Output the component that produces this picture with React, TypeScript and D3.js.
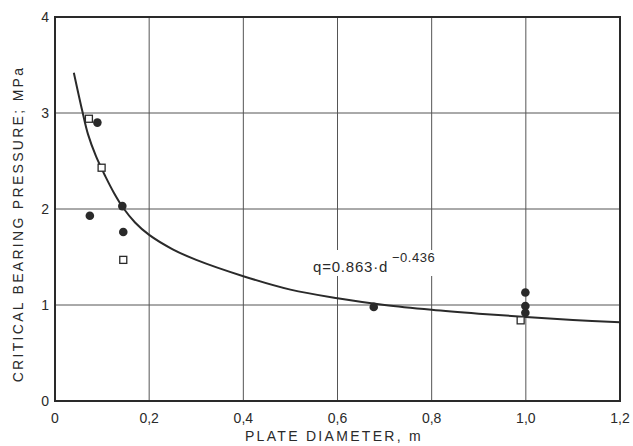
import React, { useEffect, useRef } from 'react';
import * as d3 from 'd3';

// values
const xTicks = [0, 0.2, 0.4, 0.6, 0.8, 1.0, 1.2];
const xTickLabels = ['0', '0,2', '0,4', '0,6', '0,8', '1,0', '1,2'];
const yTicks = [0, 1, 2, 3, 4];

// open squares
const squareD = [0.072, 0.099, 0.145, 0.989];
const squareQ = [2.94, 2.43, 1.47, 0.84];

// filled circles
const circleD = [0.09, 0.074, 0.143, 0.145, 0.677, 0.999, 0.999, 0.999];
const circleQ = [2.9, 1.93, 2.03, 1.76, 0.98, 1.13, 0.99, 0.92];

// fitted curve
const curveD = [0.04, 0.058, 0.07, 0.087, 0.107, 0.125, 0.145, 0.17, 0.2, 0.25, 0.3, 0.4, 0.5, 0.6, 0.7, 0.8, 0.9, 1.0, 1.1, 1.2];
const curveQ = [3.42, 3.02, 2.78, 2.55, 2.34, 2.17, 2.01, 1.86, 1.73, 1.58, 1.47, 1.3, 1.16, 1.07, 1.0, 0.95, 0.91, 0.875, 0.845, 0.82];

const ink = '#2a2a2a';
const font = '"Liberation Sans", Arial, sans-serif';

const App = () => {
    const ref = useRef<SVGSVGElement>(null);

    useEffect(() => {
        const svg = d3.select(ref.current);
        svg.selectAll('*').remove();

        const x = d3.scaleLinear().domain([0, 1.2]).range([55, 620]);
        const y = d3.scaleLinear().domain([0, 4]).range([401, 17]);

        svg.append('rect').attr('width', 633).attr('height', 446).attr('fill', '#fff');

        // grid
        const grid = svg.append('g').attr('stroke', '#555').attr('stroke-width', 1);
        xTicks.slice(1, -1).forEach((t) => {
            grid.append('line')
                .attr('x1', x(t)).attr('x2', x(t))
                .attr('y1', y(0)).attr('y2', y(4));
        });
        yTicks.slice(1, -1).forEach((t) => {
            grid.append('line')
                .attr('x1', x(0)).attr('x2', x(1.2))
                .attr('y1', y(t)).attr('y2', y(t));
        });

        // frame
        svg.append('rect')
            .attr('x', x(0)).attr('y', y(4))
            .attr('width', x(1.2) - x(0)).attr('height', y(0) - y(4))
            .attr('fill', 'none').attr('stroke', ink).attr('stroke-width', 2);

        // equation label, white box hides the grid behind it
        const eq = svg.append('g').attr('font-family', font).attr('fill', ink);
        eq.append('rect')
            .attr('x', 310).attr('y', 250).attr('width', 132).attr('height', 26)
            .attr('fill', '#fff');
        eq.append('text')
            .attr('x', 313).attr('y', 272)
            .attr('font-size', 15)
            .attr('letter-spacing', 0.8)
            .text('q=0.863·d');
        eq.append('text')
            .attr('x', 392).attr('y', 262)
            .attr('font-size', 13)
            .attr('letter-spacing', 0.5)
            .text('−0.436');

        // curve
        const line = d3.line<number>()
            .x((_, i) => x(curveD[i]))
            .y((d) => y(d))
            .curve(d3.curveCatmullRom.alpha(0.5));
        svg.append('path')
            .datum(curveQ)
            .attr('fill', 'none')
            .attr('stroke', ink)
            .attr('stroke-width', 2)
            .attr('d', line);

        // points
        svg.append('g')
            .selectAll('circle')
            .data(circleQ)
            .join('circle')
            .attr('cx', (_, i) => x(circleD[i]))
            .attr('cy', (d) => y(d))
            .attr('r', 4.3)
            .attr('fill', ink);

        svg.append('g')
            .selectAll('rect')
            .data(squareQ)
            .join('rect')
            .attr('x', (_, i) => x(squareD[i]) - 3.5)
            .attr('y', (d) => y(d) - 3.5)
            .attr('width', 7).attr('height', 7)
            .attr('fill', '#fff')
            .attr('stroke', ink)
            .attr('stroke-width', 1.3);

        // tick labels
        const labels = svg.append('g').attr('font-family', font).attr('fill', ink).attr('font-size', 14);
        xTicks.forEach((t, i) => {
            labels.append('text')
                .attr('x', x(t)).attr('y', 423)
                .attr('text-anchor', 'middle')
                .text(xTickLabels[i]);
        });
        yTicks.forEach((t) => {
            labels.append('text')
                .attr('x', 49).attr('y', y(t) + 5)
                .attr('text-anchor', 'end')
                .text(String(t));
        });

        // axis titles
        labels.append('text')
            .attr('x', 334).attr('y', 441)
            .attr('text-anchor', 'middle')
            .attr('letter-spacing', 2.3)
            .text('PLATE DIAMETER, m');
        labels.append('text')
            .attr('transform', 'translate(23,224) rotate(-90)')
            .attr('text-anchor', 'middle')
            .attr('letter-spacing', 2.3)
            .text('CRITICAL BEARING PRESSURE; MPa');
    }, []);

    return (
        <svg
            ref={ref}
            width="633"
            height="446"
            style={{ position: 'absolute', left: 0, top: 0, display: 'block' }}
        ></svg>
    );
};

export default App;
